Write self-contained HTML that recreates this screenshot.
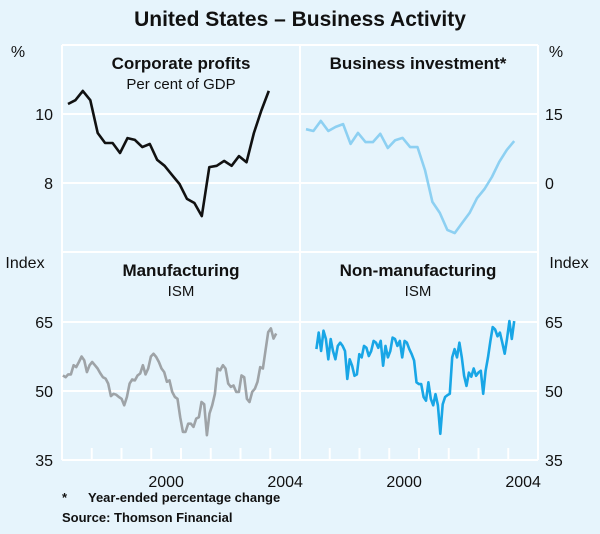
<!DOCTYPE html>
<html><head><meta charset="utf-8"><style>
body{margin:0;background:#e6f4fc;}
svg{display:block;font-family:"Liberation Sans",Arial,sans-serif;}
</style></head><body>
<svg id="chart" width="600" height="534" viewBox="0 0 600 534" xmlns="http://www.w3.org/2000/svg">
<rect x="0" y="0" width="600" height="534" fill="#e6f4fc"/>
<text x="300" y="26" text-anchor="middle" font-size="21" font-weight="bold" fill="#111">United States – Business Activity</text>
<g id="grid"></g>
<g id="series"></g>
<g id="labels" font-size="16" fill="#111"></g>
<text x="62" y="502" font-size="13" font-weight="bold" fill="#111">*</text>
<text x="88" y="502" font-size="13" font-weight="bold" fill="#111">Year-ended percentage change</text>
<text x="62" y="522" font-size="13" font-weight="bold" fill="#111">Source: Thomson Financial</text>
</svg>
<script>
const profitsValues=[10.29,10.4,10.67,10.4,9.45,9.16,9.16,8.87,9.3,9.25,9.04,9.13,8.67,8.5,8.23,7.97,7.54,7.42,7.04,8.46,8.5,8.64,8.5,8.78,8.6,9.45,10.1,10.67];
const investmentValues=[11.7,11.3,13.5,11.3,12.2,12.8,8.5,10.9,8.9,8.9,10.7,7.6,9.3,9.8,7.8,7.8,2.8,-4.1,-6.5,-10.2,-10.9,-8.7,-6.5,-3.3,-1.3,1.3,4.6,7.2,9.1];
const manufValues=[53.4,53,53.6,53.6,55.6,55.2,56.3,57.5,56.7,54.1,55.6,56.3,55.6,54.9,53.9,53,52.7,51.6,48.9,49.4,49.2,48.7,48.3,46.9,48.7,51.6,52.5,52.3,53.4,53.8,55.6,53.6,54.9,57.5,58.1,57.4,56.3,54.9,54.1,52,52.3,49.8,48.7,48.3,44.3,41.1,41.1,42.9,42.9,42.2,44,44.3,47.6,47.1,40.4,45.1,46.9,49.4,54.9,54.5,55.6,54.9,51.6,50.9,51.2,49.8,49.8,53.4,53,48.3,47.6,49.8,50.5,52,55.2,54.9,58.8,62.8,63.6,61.4,62.5];
const nonManufValues=[59.1,62.7,58.7,63.1,61.3,56.9,61.3,58.7,56.9,59.8,60.5,59.8,58.7,52.6,56.9,55.5,53.3,53.6,58,57.3,59.8,59.4,57.6,58.7,60.9,60.5,59.4,60.9,55.5,59.8,57.3,58.7,61.6,61.3,59.8,60.9,57.3,60.9,60.5,59.1,58,56.6,51.9,51.5,51.5,48.7,47.9,51.9,48.3,46.9,49.3,46.9,40.7,47.1,48.7,49.1,49.4,57.3,59.1,57.3,60.5,57.3,53.3,51.1,54,53.1,54.9,53.3,54,54.4,49.4,54.4,57.3,60.9,63.9,63.4,61.9,62.7,60.5,58.1,61.3,65.2,61.3,65.2];
const profitTicks=[10,8];
const investTicks=[15,0];
const ismTicks=[65,50,35];
const yearTicks=[1998,1999,2000,2001,2002,2003,2004];
const yearLabels=["2000","2004"];

const NS="http://www.w3.org/2000/svg";
const L=62,M=300,R=538,T=45,MID=252,B=460;
function xL(yr){return L+(yr-1997)*(M-L)/8;}
function xR(yr){return M+(yr-1997)*(R-M)/8;}
function yProf(v){return 114+(10-v)*34.5;}
function yInv(v){return 114+(15-v)*4.6;}
function yIsm(v){return 322+(65-v)*4.6;}
const grid=document.getElementById('grid'),ser=document.getElementById('series'),lab=document.getElementById('labels');
function el(tag,attrs,parent){const e=document.createElementNS(NS,tag);for(const k in attrs)e.setAttribute(k,attrs[k]);parent.appendChild(e);return e;}
function line(x1,y1,x2,y2,name){const e=el('line',{x1,y1,x2,y2,stroke:'#fff','stroke-width':2},grid);

}
function txt(x,y,s,anchor,name,extra){const e=el('text',Object.assign({x,y,'text-anchor':anchor},extra||{}),lab);e.textContent=s;

}
line(L,T,R,T,'frame-top');line(L,T,L,B,'frame-left');line(R,T,R,B,'frame-right');line(L,B,R,B,'x-axis');
line(M,T,M,B,'panel-divider');line(L,MID,R,MID,'panel-divider-horizontal');
profitTicks.forEach(v=>{line(L,yProf(v),M,yProf(v),'gridline');txt(53,yProf(v)+6,String(v),'end','y-tick-label');});
investTicks.forEach(v=>{line(M,yInv(v),R,yInv(v),'gridline');txt(545,yInv(v)+6,String(v),'start','y-tick-label');});
ismTicks.forEach(v=>{line(L,yIsm(v),R,yIsm(v),'gridline');txt(53,yIsm(v)+6,String(v),'end','y-tick-label');txt(545,yIsm(v)+6,String(v),'start','y-tick-label');});
yearTicks.forEach(y=>{line(xL(y),B,xL(y),B-12,'x-tick');line(xR(y),B,xR(y),B-12,'x-tick');});
yearLabels.forEach(s=>{const y=+s+0.5;txt(xL(y),487,s,'middle','x-tick-label');txt(xR(y),487,s,'middle','x-tick-label');});
txt(18,57,'%','middle','y-axis-unit');txt(556,57,'%','middle','y-axis-unit');
txt(25,268,'Index','middle','y-axis-unit');txt(569,268,'Index','middle','y-axis-unit');
txt(181,69,'Corporate profits','middle','panel-title',{'font-weight':'bold','font-size':'17'});
txt(181,89,'Per cent of GDP','middle','panel-subtitle',{'font-size':'15'});
txt(418,69,'Business investment*','middle','panel-title',{'font-weight':'bold','font-size':'17'});
txt(181,276,'Manufacturing','middle','panel-title',{'font-weight':'bold','font-size':'17'});
txt(181,296,'ISM','middle','panel-subtitle',{'font-size':'15'});
txt(418,276,'Non-manufacturing','middle','panel-title',{'font-weight':'bold','font-size':'17'});
txt(418,296,'ISM','middle','panel-subtitle',{'font-size':'15'});
function path(vals,t0,dt,xf,yf,color,name){const d=vals.map((v,i)=>(i?'L':'M')+xf(t0+i*dt).toFixed(1)+','+yf(v).toFixed(1)).join(' ');
const p=el('path',{d,fill:'none',stroke:color,'stroke-width':2.6,'stroke-linejoin':'round'},ser);

}
path(profitsValues,1997.2,0.25,xL,yProf,'#111','corporate-profits-line');
path(investmentValues,1997.2,0.25,xR,yInv,'#8dd0f2','business-investment-line');
path(manufValues,1997.03,(2004.2-1997.03)/(manufValues.length-1),xL,yIsm,'#9ea3a7','manufacturing-ism-line');
path(nonManufValues,1997.55,(2004.2-1997.55)/(nonManufValues.length-1),xR,yIsm,'#18a6e6','non-manufacturing-ism-line');
</script>
</body></html>
